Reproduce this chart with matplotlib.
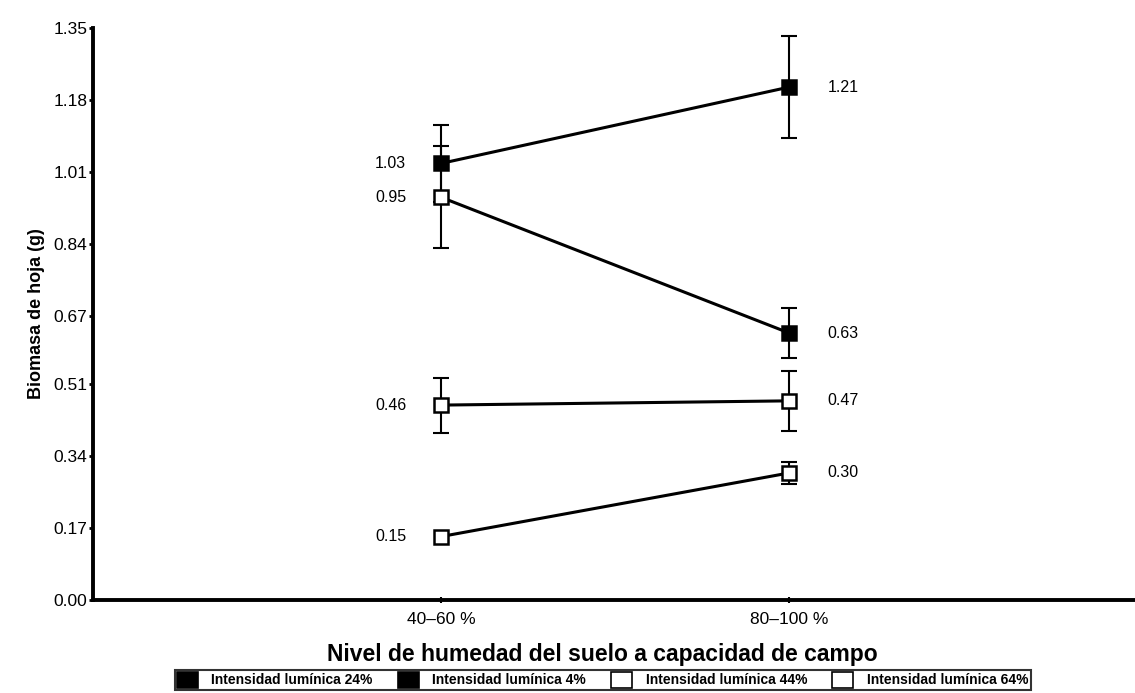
import numpy as np
import matplotlib.pyplot as plt
from matplotlib.patches import Patch

plt.rcParams['font.family'] = ['Liberation Sans', 'DejaVu Sans']

niveles = ["40–60 %", "80–100 %"]
y_ticks = [0.00, 0.17, 0.34, 0.51, 0.67, 0.84, 1.01, 1.18, 1.35]
y_ticklabels = ["0.00", "0.17", "0.34", "0.51", "0.67", "0.84", "1.01", "1.18", "1.35"]

# media y error de cada serie en los dos niveles de humedad
serie_a = [1.03, 1.21]
err_a = [0.09, 0.12]
cara_a = ["black", "black"]

serie_b = [0.95, 0.63]
err_b = [0.12, 0.06]
cara_b = ["white", "black"]

serie_c = [0.46, 0.47]
err_c = [0.065, 0.07]
cara_c = ["white", "white"]

serie_d = [0.15, 0.30]
err_d = [np.nan, 0.025]
cara_d = ["white", "white"]

leyenda = ["Intensidad lumínica 24%", "Intensidad lumínica 4%",
           "Intensidad lumínica 44%", "Intensidad lumínica 64%"]
leyenda_color = ["black", "black", "white", "white"]

fig = plt.figure(figsize=(11.35, 6.93), dpi=100)
ax = fig.add_axes([0.082, 0.134, 0.92, 0.826])

x = np.arange(len(niveles))
for vals, errs, caras in [(serie_a, err_a, cara_a), (serie_b, err_b, cara_b),
                          (serie_c, err_c, cara_c), (serie_d, err_d, cara_d)]:
    ax.plot(x, vals, color="black", lw=2.2, zorder=2)
    ax.errorbar(x, vals, yerr=errs, fmt="none", ecolor="black", capsize=6,
                elinewidth=1.5, capthick=1.5, zorder=2)
    for xi, v, c in zip(x, vals, caras):
        ax.plot(xi, v, marker="s", ms=10, mfc=c, mec="black", mew=1.8, zorder=3)
    ax.text(x[0] - 0.1, vals[0], "%.2f" % vals[0], ha="right", va="center", fontsize=11.5)
    ax.text(x[1] + 0.11, vals[1], "%.2f" % vals[1], ha="left", va="center", fontsize=11.5)

ax.set_xlim(-1, 2)
ax.set_ylim(0, 1.35)
ax.set_xticks(x)
ax.set_xticklabels(niveles, fontsize=12.5)
ax.set_yticks(y_ticks)
ax.set_yticklabels(y_ticklabels, fontsize=12.5)
ax.tick_params(axis="y", length=3, width=2, pad=1)
ax.tick_params(axis="x", length=5, width=1.5, direction="inout", pad=6)

for s in ["top", "right"]:
    ax.spines[s].set_visible(False)
for s in ["left", "bottom"]:
    ax.spines[s].set_linewidth(2.8)

ax.set_ylabel("Biomasa de hoja (g)", fontsize=13, fontweight="bold", labelpad=6)
fig.text(0.531, 0.055, "Nivel de humedad del suelo a capacidad de campo",
         ha="center", va="center", fontsize=16.5, fontweight="bold")

handles = [Patch(facecolor=c, edgecolor="black", lw=1.2) for c in leyenda_color]
leg = fig.legend(handles, leyenda, loc="center", bbox_to_anchor=(0.531, 0.019), ncol=4,
                 fontsize=10, frameon=True, fancybox=False, edgecolor="black",
                 handlelength=1.5, handleheight=1.4, columnspacing=1.8,
                 borderpad=0.15, handletextpad=1.0, borderaxespad=0)
leg.get_frame().set_linewidth(1.5)
for t in leg.get_texts():
    t.set_fontweight("bold")

fig.savefig("out.png", dpi=100)
plt.close()
